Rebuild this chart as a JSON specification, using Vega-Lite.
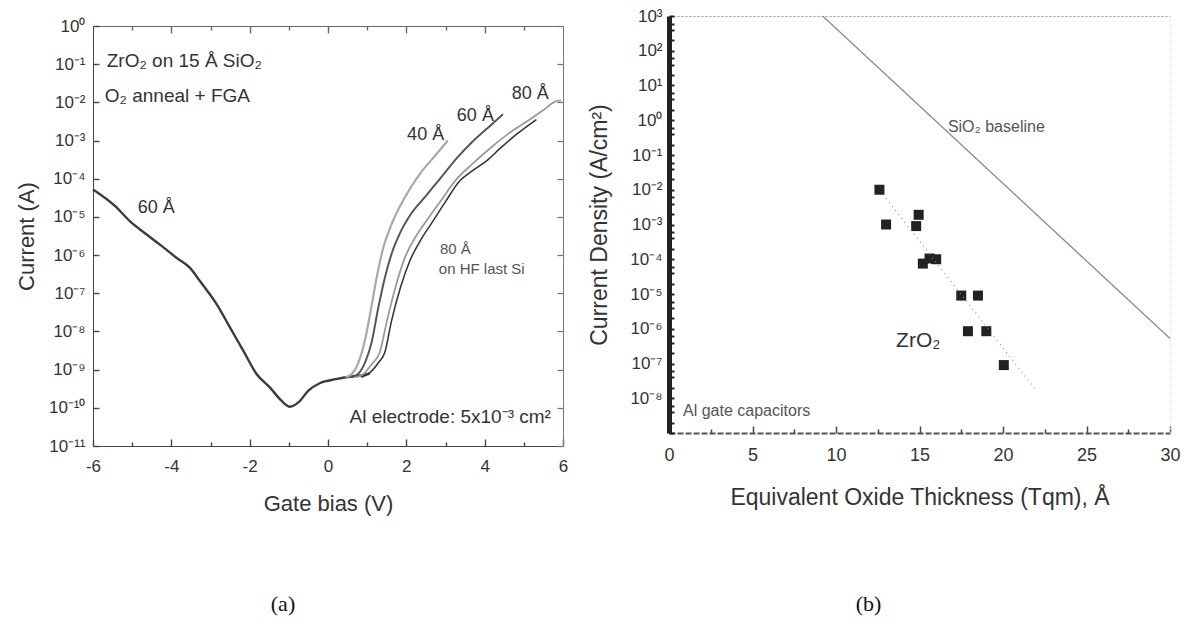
{
  "$schema": "https://vega.github.io/schema/vega-lite/v6.json",
  "background": "white",
  "padding": {"left": 15, "top": 7, "right": 10, "bottom": 5},
  "spacing": 20,
  "config": {
    "view": {"stroke": null},
    "font": "Liberation Sans",
    "axis": {
      "labelFont": "Liberation Sans", "titleFont": "Liberation Sans",
      "labelColor": "#333", "titleColor": "#333",
      "labelFontSize": 17, "titleFontSize": 22, "titleFontWeight": "normal",
      "grid": false, "domainColor": "#444", "tickColor": "#444", "zindex": 1
    },
    "title": {"font": "Liberation Serif", "fontSize": 22, "fontWeight": "normal", "color": "#111"}
  },
  "datasets": {
    "iv": [
      {"film": "60 Å neg", "bias": -6.0, "current": 5.25e-5},
      {"film": "60 Å neg", "bias": -5.44, "current": 1.95e-5},
      {"film": "60 Å neg", "bias": -5.06, "current": 7.76e-6},
      {"film": "60 Å neg", "bias": -4.63, "current": 3.47e-6},
      {"film": "60 Å neg", "bias": -4.25, "current": 1.74e-6},
      {"film": "60 Å neg", "bias": -3.87, "current": 8.51e-7},
      {"film": "60 Å neg", "bias": -3.53, "current": 4.68e-7},
      {"film": "60 Å neg", "bias": -3.27, "current": 2.09e-7},
      {"film": "60 Å neg", "bias": -2.84, "current": 5.13e-8},
      {"film": "60 Å neg", "bias": -2.5, "current": 1.26e-8},
      {"film": "60 Å neg", "bias": -2.16, "current": 3.09e-9},
      {"film": "60 Å neg", "bias": -1.82, "current": 7.59e-10},
      {"film": "60 Å neg", "bias": -1.48, "current": 3.39e-10},
      {"film": "60 Å neg", "bias": -1.2, "current": 1.58e-10},
      {"film": "60 Å neg", "bias": -0.97, "current": 1.07e-10},
      {"film": "60 Å neg", "bias": -0.75, "current": 1.41e-10},
      {"film": "60 Å neg", "bias": -0.5, "current": 2.82e-10},
      {"film": "60 Å neg", "bias": -0.2, "current": 4.47e-10},
      {"film": "60 Å neg", "bias": 0.2, "current": 5.62e-10},
      {"film": "60 Å neg", "bias": 0.6, "current": 6.61e-10},
      {"film": "60 Å neg", "bias": 0.9, "current": 7.24e-10},
      {"film": "60 Å neg", "bias": 1.07, "current": 7.94e-10},
      {"film": "40 Å", "bias": 0.45, "current": 6.31e-10},
      {"film": "40 Å", "bias": 0.62, "current": 7.94e-10},
      {"film": "40 Å", "bias": 0.8, "current": 1.78e-9},
      {"film": "40 Å", "bias": 0.95, "current": 6.31e-9},
      {"film": "40 Å", "bias": 1.1, "current": 3.98e-8},
      {"film": "40 Å", "bias": 1.25, "current": 2.82e-7},
      {"film": "40 Å", "bias": 1.4, "current": 1.41e-6},
      {"film": "40 Å", "bias": 1.6, "current": 5.62e-6},
      {"film": "40 Å", "bias": 1.85, "current": 2.0e-5},
      {"film": "40 Å", "bias": 2.1, "current": 5.62e-5},
      {"film": "40 Å", "bias": 2.4, "current": 1.58e-4},
      {"film": "40 Å", "bias": 2.75, "current": 4.17e-4},
      {"film": "40 Å", "bias": 3.06, "current": 1.0e-3},
      {"film": "60 Å", "bias": 0.6, "current": 6.31e-10},
      {"film": "60 Å", "bias": 0.78, "current": 7.94e-10},
      {"film": "60 Å", "bias": 0.95, "current": 1.58e-9},
      {"film": "60 Å", "bias": 1.11, "current": 5.01e-9},
      {"film": "60 Å", "bias": 1.28, "current": 3.98e-8},
      {"film": "60 Å", "bias": 1.45, "current": 2.51e-7},
      {"film": "60 Å", "bias": 1.62, "current": 1.05e-6},
      {"film": "60 Å", "bias": 1.85, "current": 3.98e-6},
      {"film": "60 Å", "bias": 2.1, "current": 1.12e-5},
      {"film": "60 Å", "bias": 2.5, "current": 3.55e-5},
      {"film": "60 Å", "bias": 2.9, "current": 1.12e-4},
      {"film": "60 Å", "bias": 3.3, "current": 3.55e-4},
      {"film": "60 Å", "bias": 3.7, "current": 9.55e-4},
      {"film": "60 Å", "bias": 4.1, "current": 2.24e-3},
      {"film": "60 Å", "bias": 4.47, "current": 4.9e-3},
      {"film": "80 Å", "bias": 0.72, "current": 6.31e-10},
      {"film": "80 Å", "bias": 0.9, "current": 7.59e-10},
      {"film": "80 Å", "bias": 1.12, "current": 1.41e-9},
      {"film": "80 Å", "bias": 1.32, "current": 2.82e-9},
      {"film": "80 Å", "bias": 1.5, "current": 1.78e-8},
      {"film": "80 Å", "bias": 1.72, "current": 1.41e-7},
      {"film": "80 Å", "bias": 1.95, "current": 7.94e-7},
      {"film": "80 Å", "bias": 2.25, "current": 3.16e-6},
      {"film": "80 Å", "bias": 2.55, "current": 8.91e-6},
      {"film": "80 Å", "bias": 2.9, "current": 2.82e-5},
      {"film": "80 Å", "bias": 3.25, "current": 8.91e-5},
      {"film": "80 Å", "bias": 3.7, "current": 2.51e-4},
      {"film": "80 Å", "bias": 4.2, "current": 7.08e-4},
      {"film": "80 Å", "bias": 4.7, "current": 1.78e-3},
      {"film": "80 Å", "bias": 5.15, "current": 3.55e-3},
      {"film": "80 Å", "bias": 5.5, "current": 6.31e-3},
      {"film": "80 Å", "bias": 5.8, "current": 1.05e-2},
      {"film": "80 Å", "bias": 5.95, "current": 1.12e-2},
      {"film": "80 Å HF", "bias": 0.85, "current": 6.31e-10},
      {"film": "80 Å HF", "bias": 1.07, "current": 8.32e-10},
      {"film": "80 Å HF", "bias": 1.3, "current": 1.58e-9},
      {"film": "80 Å HF", "bias": 1.45, "current": 2.82e-9},
      {"film": "80 Å HF", "bias": 1.62, "current": 1.86e-8},
      {"film": "80 Å HF", "bias": 1.85, "current": 1.41e-7},
      {"film": "80 Å HF", "bias": 2.09, "current": 7.08e-7},
      {"film": "80 Å HF", "bias": 2.4, "current": 2.82e-6},
      {"film": "80 Å HF", "bias": 2.68, "current": 7.76e-6},
      {"film": "80 Å HF", "bias": 3.0, "current": 2.51e-5},
      {"film": "80 Å HF", "bias": 3.36, "current": 8.71e-5},
      {"film": "80 Å HF", "bias": 3.7, "current": 1.66e-4},
      {"film": "80 Å HF", "bias": 4.04, "current": 2.88e-4},
      {"film": "80 Å HF", "bias": 4.4, "current": 6.31e-4},
      {"film": "80 Å HF", "bias": 4.81, "current": 1.45e-3},
      {"film": "80 Å HF", "bias": 5.32, "current": 3.55e-3}
    ],
    "notesA": [
      {"kind": "note", "bias": -5.65, "current": 0.12, "label": "ZrO₂ on 15 Å SiO₂"},
      {"kind": "note", "bias": -5.7, "current": 0.0148, "label": "O₂ anneal + FGA"},
      {"kind": "note", "bias": 0.55, "current": 5.75e-11, "label": "Al electrode: 5x10⁻³ cm²"},
      {"kind": "curve", "bias": -4.86, "current": 1.7e-5, "label": "60 Å"},
      {"kind": "curve", "bias": 2.02, "current": 1.41e-3, "label": "40 Å"},
      {"kind": "curve", "bias": 3.29, "current": 4.37e-3, "label": "60 Å"},
      {"kind": "curve", "bias": 4.69, "current": 0.0166, "label": "80 Å"},
      {"kind": "small", "bias": 2.86, "current": 1.45e-6, "label": "80 Å"},
      {"kind": "small", "bias": 2.83, "current": 4.37e-7, "label": "on HF last Si"}
    ],
    "eot": [
      {"eot": 12.6, "density": 1.0e-2},
      {"eot": 13.0, "density": 1.0e-3},
      {"eot": 14.8, "density": 9.0e-4},
      {"eot": 14.95, "density": 1.9e-3},
      {"eot": 15.2, "density": 7.5e-5},
      {"eot": 15.6, "density": 1.05e-4},
      {"eot": 16.0, "density": 1.0e-4},
      {"eot": 17.5, "density": 9.0e-6},
      {"eot": 18.5, "density": 9.0e-6},
      {"eot": 17.9, "density": 8.5e-7},
      {"eot": 19.0, "density": 8.5e-7},
      {"eot": 20.05, "density": 9.0e-8}
    ],
    "refLines": [
      {"line": "SiO₂ baseline", "eot": 9.2, "density": 1000},
      {"line": "SiO₂ baseline", "eot": 30, "density": 5.25e-7},
      {"line": "ZrO₂ trend", "eot": 13.0, "density": 5.62e-3},
      {"line": "ZrO₂ trend", "eot": 22.0, "density": 1.66e-8}
    ],
    "notesB": [
      {"kind": "small", "eot": 16.7, "density": 0.631, "label": "SiO₂ baseline"},
      {"kind": "big", "eot": 13.6, "density": 4.57e-7, "label": "ZrO₂"},
      {"kind": "small", "eot": 0.84, "density": 4.17e-9, "label": "Al gate capacitors"}
    ]
  },
  "hconcat": [
    {
      "spacing": -5,
      "vconcat": [
        {
          "width": 470,
          "height": 1,
          "data": {"values": [{}]},
          "mark": {"type": "text", "text": ""},
          "encoding": {}
        },
        {
          "width": 470,
          "height": 420,
          "title": {"text": "(a)", "orient": "bottom", "offset": 80, "anchor": "middle", "dx": -45},
          "resolve": {"axis": {"x": "independent", "y": "independent"}},
          "layer": [
            {
              "data": {"name": "iv"},
              "mark": {"type": "line", "interpolate": "monotone"},
              "encoding": {
                "x": {
                  "field": "bias", "type": "quantitative",
                  "scale": {"domain": [-6, 6], "nice": false, "zero": false},
                  "axis": {
                    "orient": "bottom", "title": "Gate bias (V)",
                    "values": [-6, -4, -2, 0, 2, 4, 6],
                    "labelExpr": "datum.value < 0 ? '-' + abs(datum.value) : '' + datum.value",
                    "tickSize": -7,
                    "labelPadding": 19, "titlePadding": 19, "labelFlush": false,
                    "domainColor": "#444", "tickColor": "#444", "tickWidth": 1.4
                  }
                },
                "y": {
                  "field": "current", "type": "quantitative",
                  "scale": {"type": "log", "domain": [1e-11, 1], "nice": false},
                  "axis": {
                    "orient": "left", "title": "Current (A)",
                    "values": [1e-11, 1e-10, 1e-9, 1e-8, 1e-7, 1e-6, 1e-5, 1e-4, 1e-3, 1e-2, 1e-1, 1],
                    "labelExpr": "['10⁻¹¹','10⁻¹⁰','10⁻⁹','10⁻⁸','10⁻⁷','10⁻⁶','10⁻⁵','10⁻⁴','10⁻³','10⁻²','10⁻¹','10⁰'][round(log(datum.value)/LN10)+11]",
                    "tickSize": -6, "labelPadding": 14, "titlePadding": 10, "labelFlush": false,
                    "domainColor": "#444", "tickColor": "#444", "tickWidth": 1.4
                  }
                },
                "color": {
                  "field": "film", "type": "nominal",
                  "scale": {"domain": ["60 Å neg", "40 Å", "60 Å", "80 Å", "80 Å HF"], "range": ["#3c3c3c", "#a8a8a8", "#555555", "#9a9a9a", "#333333"]},
                  "legend": null
                },
                "strokeWidth": {
                  "field": "film", "type": "nominal",
                  "scale": {"domain": ["60 Å neg", "40 Å", "60 Å", "80 Å", "80 Å HF"], "range": [2.4, 1.1, 2.0, 2.2, 2.8]},
                  "legend": null
                }
              }
            },
            {
              "data": {"name": "notesA"},
              "transform": [{"filter": "datum.kind === 'note'"}],
              "mark": {"type": "text", "align": "left", "baseline": "middle", "fontSize": 19, "color": "#333"},
              "encoding": {
                "x": {"field": "bias", "type": "quantitative", "axis": {"orient": "top", "title": null, "labels": false, "values": [-4, -2, 0, 2, 4], "tickSize": -7, "domainColor": "#666", "tickColor": "#666", "tickWidth": 1.4}},
                "y": {"field": "current", "type": "quantitative", "axis": {"orient": "right", "title": null, "labels": false, "values": [1e-11, 1e-10, 1e-9, 1e-8, 1e-7, 1e-6, 1e-5, 1e-4, 1e-3, 1e-2, 1e-1, 1], "tickSize": -6, "domainColor": "#777", "tickColor": "#777", "tickWidth": 1.3}},
                "text": {"field": "label"}
              }
            },
            {
              "data": {"name": "notesA"},
              "transform": [{"filter": "datum.kind === 'curve'"}],
              "mark": {"type": "text", "align": "left", "baseline": "middle", "fontSize": 18, "color": "#333"},
              "encoding": {
                "x": {"field": "bias", "type": "quantitative", "axis": {"orient": "bottom", "title": null, "labels": false, "domain": false, "values": [-5, -3, -1, 1, 3, 5], "tickSize": -4, "tickColor": "#444", "tickWidth": 1.4}},
                "y": {"field": "current", "type": "quantitative", "axis": null},
                "text": {"field": "label"}
              }
            },
            {
              "data": {"name": "notesA"},
              "transform": [{"filter": "datum.kind === 'small'"}],
              "mark": {"type": "text", "align": "left", "baseline": "middle", "fontSize": 15, "color": "#555"},
              "encoding": {
                "x": {"field": "bias", "type": "quantitative", "axis": {"orient": "top", "title": null, "labels": false, "domain": false, "values": [-5, -3, -1, 1, 3, 5], "tickSize": -4, "tickColor": "#666", "tickWidth": 1.4}},
                "y": {"field": "current", "type": "quantitative", "axis": null},
                "text": {"field": "label"}
              }
            }
          ]
        }
      ]
    },
    {
      "width": 501,
      "height": 417,
      "title": {"text": "(b)", "orient": "bottom", "offset": 85, "anchor": "middle", "dx": -51},
      "resolve": {"axis": {"x": "independent", "y": "independent"}},
      "layer": [
        {
          "data": {"name": "eot"},
          "mark": {"type": "square", "size": 100, "color": "#222", "opacity": 1},
          "encoding": {
            "x": {
              "field": "eot", "type": "quantitative",
              "scale": {"domain": [0, 30], "nice": false},
              "axis": {
                "orient": "bottom", "title": "Equivalent Oxide Thickness (Tqm), Å",
                "titleFontSize": 23, "labelFontSize": 18,
                "values": [0, 5, 10, 15, 20, 25, 30],
                "tickSize": -7,
                "labelPadding": 20, "titlePadding": 22, "labelFlush": false,
                "domainColor": "#555", "domainWidth": 2, "domainDash": [6, 2], "tickColor": "#444", "tickWidth": 1.5
              }
            },
            "y": {
              "field": "density", "type": "quantitative",
              "scale": {"type": "log", "domain": [1e-9, 1000], "nice": false},
              "axis": {
                "orient": "left", "title": "Current Density (A/cm²)",
                "titleFontSize": 23,
                "values": [1e-9, 2e-9, 4e-9, 6e-9, 1e-8, 2e-8, 4e-8, 6e-8, 1e-7, 2e-7, 4e-7, 6e-7, 1e-6, 2e-6, 4e-6, 6e-6, 1e-5, 2e-5, 4e-5, 6e-5, 1e-4, 2e-4, 4e-4, 6e-4, 1e-3, 2e-3, 4e-3, 6e-3, 1e-2, 2e-2, 4e-2, 6e-2, 0.1, 0.2, 0.4, 0.6, 1, 2, 4, 6, 10, 20, 40, 60, 100, 200, 400, 600, 1000],
                "labelExpr": "abs(log(datum.value)/LN10 - round(log(datum.value)/LN10)) < 0.001 && datum.value > 5e-9 ? ['10⁻⁸','10⁻⁷','10⁻⁶','10⁻⁵','10⁻⁴','10⁻³','10⁻²','10⁻¹','10⁰','10¹','10²','10³'][round(log(datum.value)/LN10)+8] : ''",
                "tickSize": -5, "tickWidth": 2, "tickColor": "#222",
                "labelPadding": 12, "titlePadding": 18, "labelFlush": false,
                "domainColor": "#222", "domainWidth": 5
              }
            }
          }
        },
        {
          "data": {"name": "refLines"},
          "mark": {"type": "line", "color": "#8a8a8a"},
          "encoding": {
            "x": {"field": "eot", "type": "quantitative", "axis": {"orient": "top", "title": null, "labels": false, "ticks": false, "domainColor": "#999", "domainDash": [2, 2]}},
            "y": {"field": "density", "type": "quantitative", "axis": {"orient": "right", "title": null, "labels": false, "ticks": false, "domainColor": "#ddd", "domainDash": [2, 2]}},
            "detail": {"field": "line"},
            "strokeDash": {"field": "line", "type": "nominal", "scale": {"domain": ["SiO₂ baseline", "ZrO₂ trend"], "range": [[1, 0], [1, 4]]}, "legend": null},
            "strokeWidth": {"field": "line", "type": "nominal", "scale": {"domain": ["SiO₂ baseline", "ZrO₂ trend"], "range": [1.2, 1.5]}, "legend": null}
          }
        },
        {
          "data": {"name": "notesB"},
          "transform": [{"filter": "datum.kind === 'small'"}],
          "mark": {"type": "text", "align": "left", "baseline": "middle", "fontSize": 16, "color": "#555"},
          "encoding": {
            "x": {"field": "eot", "type": "quantitative", "axis": {"orient": "bottom", "title": null, "labels": false, "domain": false, "values": [2.5, 7.5, 12.5, 17.5, 22.5, 27.5], "tickSize": -4, "tickColor": "#444", "tickWidth": 1.5}},
            "y": {"field": "density", "type": "quantitative", "axis": null},
            "text": {"field": "label"}
          }
        },
        {
          "data": {"name": "notesB"},
          "transform": [{"filter": "datum.kind === 'big'"}],
          "mark": {"type": "text", "align": "left", "baseline": "middle", "fontSize": 21, "color": "#333"},
          "encoding": {
            "x": {"field": "eot", "type": "quantitative", "axis": null},
            "y": {"field": "density", "type": "quantitative", "axis": null},
            "text": {"field": "label"}
          }
        }
      ]
    }
  ]
}
